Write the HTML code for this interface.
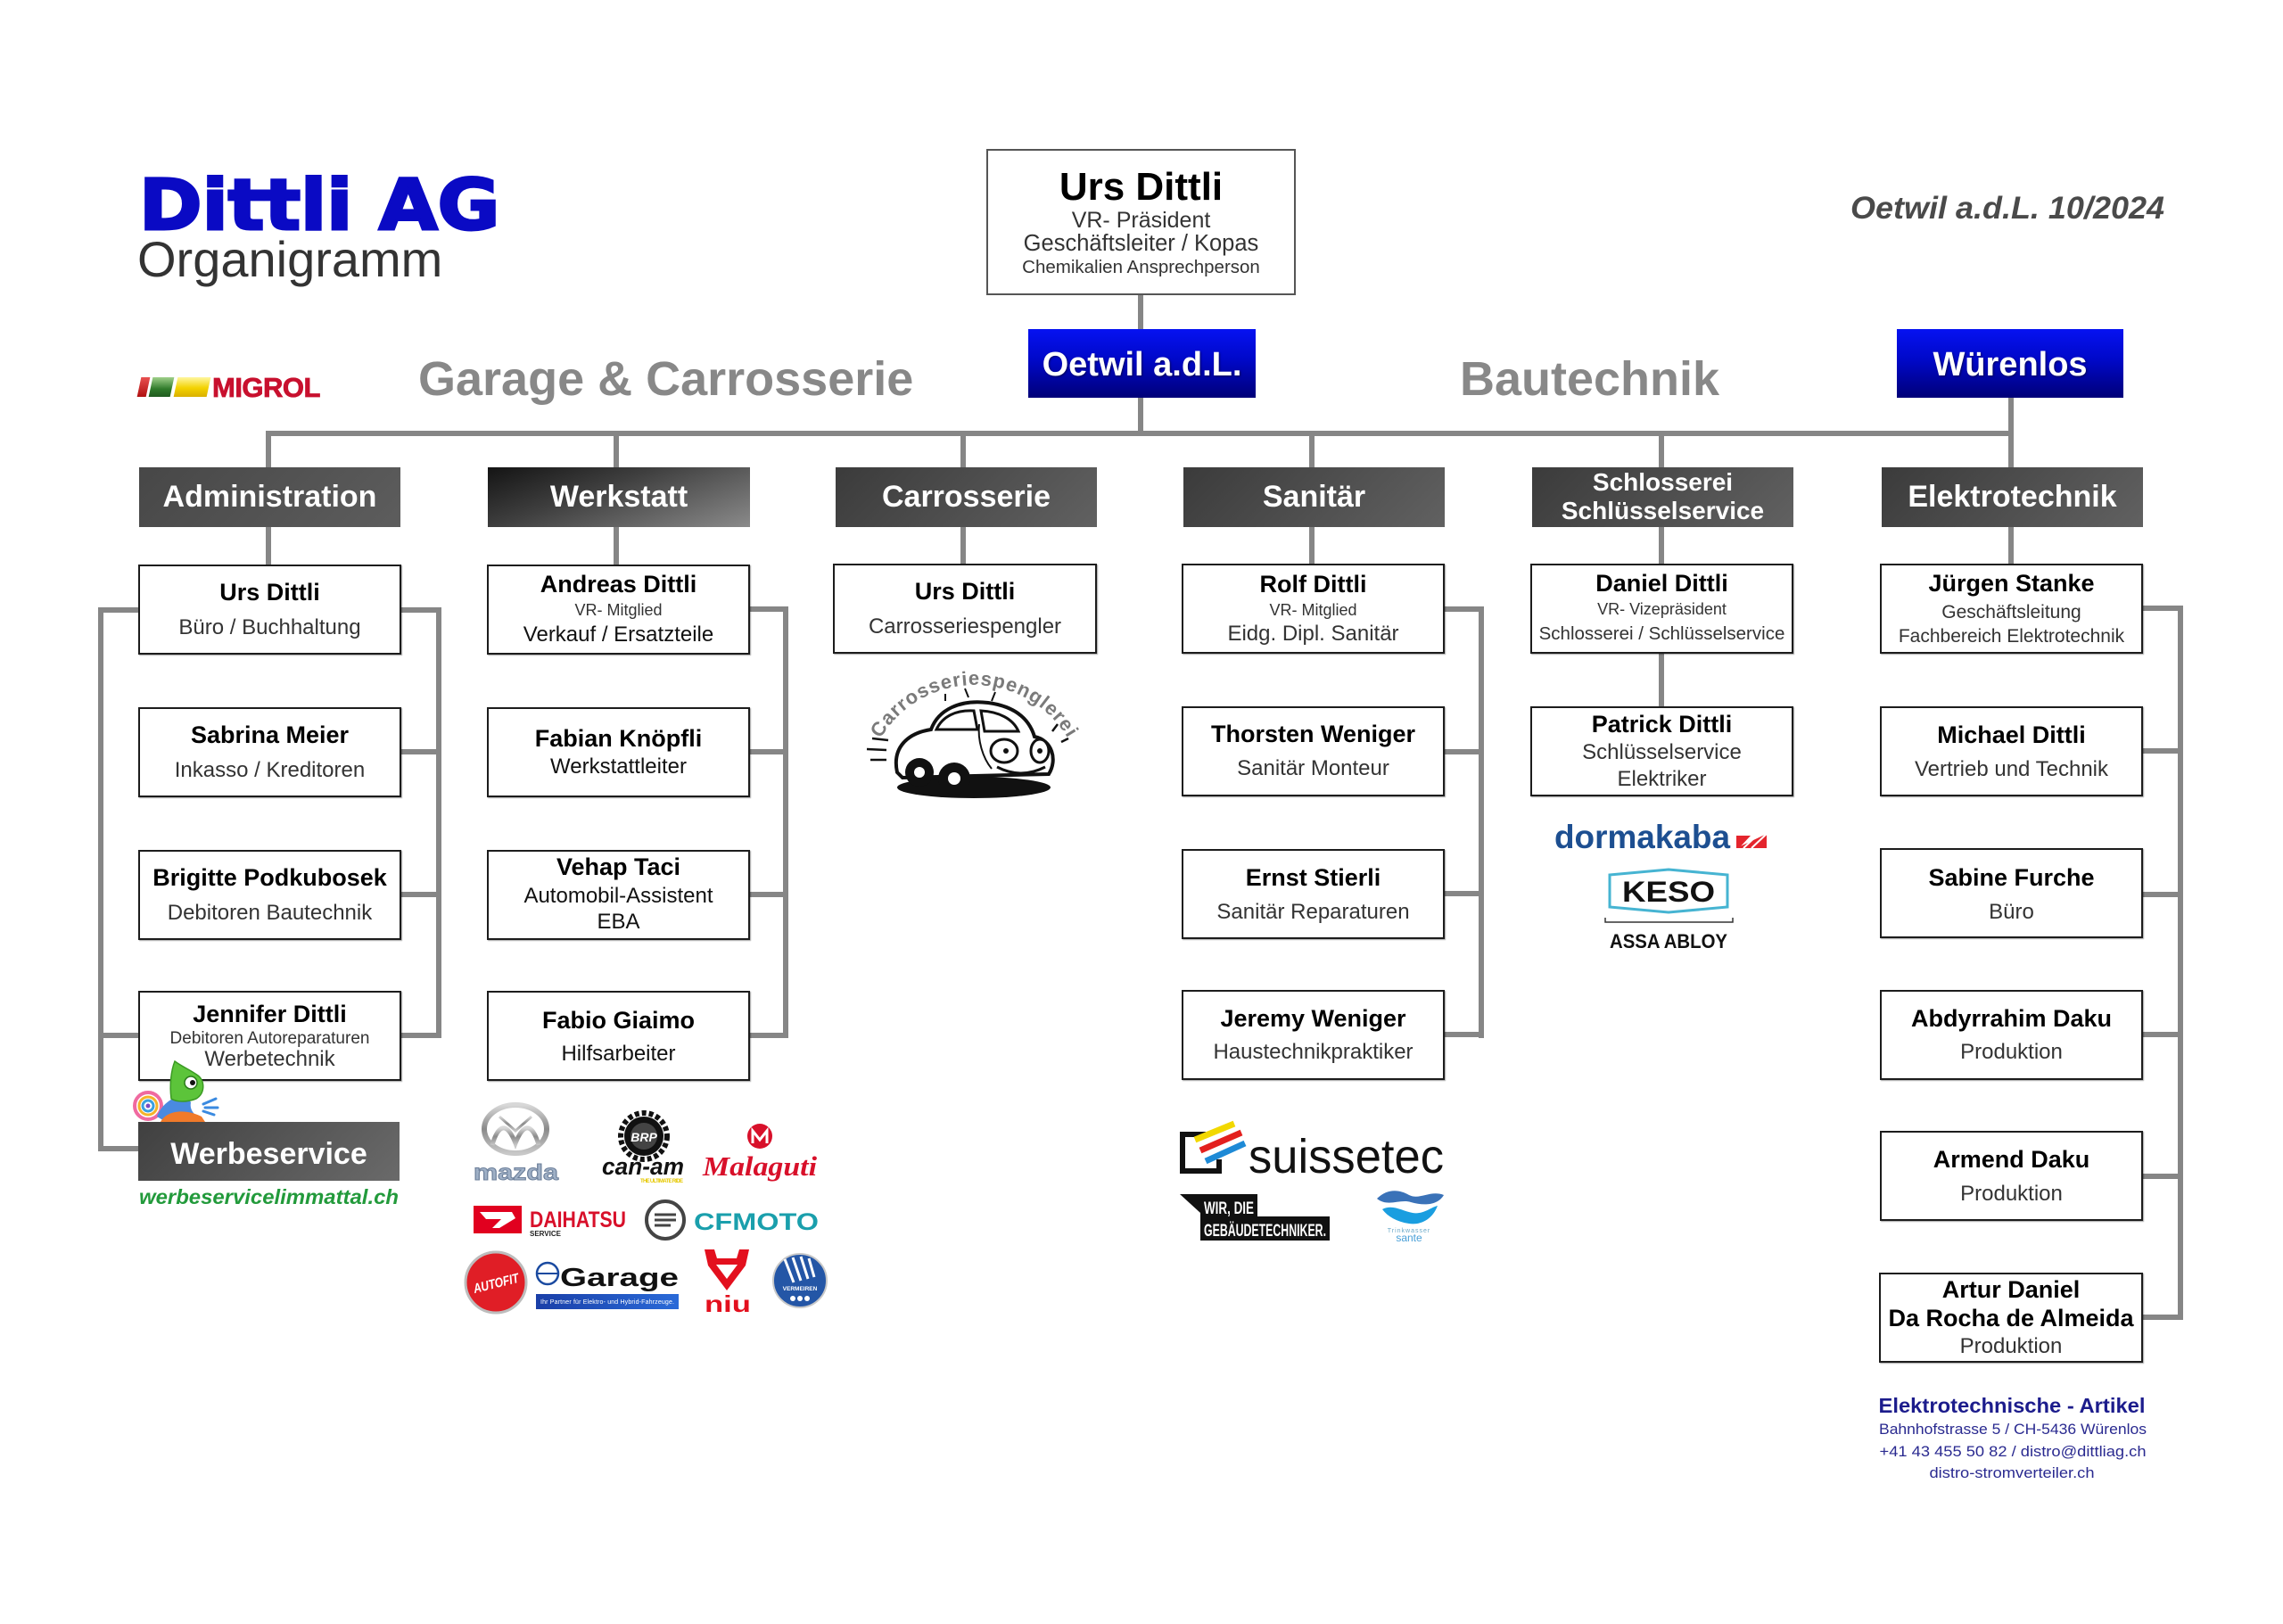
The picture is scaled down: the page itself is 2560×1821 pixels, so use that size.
<!DOCTYPE html>
<html lang="de">
<head>
<meta charset="utf-8">
<style>
  html,body{margin:0;padding:0;background:#fff;}
  body{width:2560px;height:1821px;position:relative;overflow:hidden;font-family:"Liberation Sans",Arial,sans-serif;}
  .a{position:absolute;white-space:nowrap;}
  .l{position:absolute;background:#868686;}
  .hdr{position:absolute;height:67px;line-height:67px;color:#fff;font-weight:bold;font-size:34px;text-align:center;background:linear-gradient(135deg,#3b3b3b,#616161);white-space:nowrap;}
  .blue{position:absolute;height:77px;background:linear-gradient(to bottom,#0612f2 0%,#0008c8 45%,#000078 100%);color:#fff;font-weight:bold;font-size:38px;text-align:center;}
  .blue div{position:absolute;left:0;right:0;top:21px;line-height:38px;text-shadow:1px 1px 2px rgba(0,0,0,.5);}
  .b{position:absolute;box-sizing:border-box;height:101px;border:2px solid #1c1c1c;background:#fff;box-shadow:1px 1px 1px rgba(0,0,0,.35);}
  .b div{position:absolute;left:0;right:0;text-align:center;white-space:nowrap;}
  .n{font-weight:bold;font-size:27px;line-height:27px;color:#000;}
  .s{font-size:24px;line-height:24px;color:#333;}
  .k{font-size:24px;line-height:24px;color:#111;}
  .v{font-size:18px;line-height:18px;color:#333;}
</style>
</head>
<body>

<!-- Titles -->
<div class="a" style="left:156px;top:192px;font-family:'DejaVu Sans','Liberation Sans',sans-serif;font-weight:bold;font-size:78px;line-height:78px;color:#0a0ac4;-webkit-text-stroke:3px #0a0ac4;transform:scaleX(1.09);transform-origin:left top;">Dittli AG</div>
<div class="a" style="left:154px;top:263px;font-size:56px;line-height:56px;color:#333;">Organigramm</div>

<div class="a" style="left:469px;top:398px;font-size:54px;line-height:54px;font-weight:bold;color:#888;">Garage &amp; Carrosserie</div>
<div class="a" style="left:1637px;top:398px;font-size:54px;line-height:54px;font-weight:bold;color:#888;">Bautechnik</div>

<!-- MIGROL -->
<div class="a" style="left:156px;top:423px;width:10px;height:22px;background:linear-gradient(#e85050,#b01010);transform:skewX(-12deg);"></div>
<div class="a" style="left:169px;top:423px;width:24px;height:22px;background:linear-gradient(#9fd08a,#2f7a2a 60%,#1f5a1f);transform:skewX(-12deg);"></div>
<div class="a" style="left:197px;top:423px;width:37px;height:22px;background:linear-gradient(#fff6a0,#f3d200 55%,#d9b000);transform:skewX(-12deg);"></div>
<div class="a" style="left:238px;top:419px;font-size:31px;line-height:31px;font-weight:bold;color:#c8102e;letter-spacing:-0.5px;-webkit-text-stroke:0.8px #c8102e;">MIGROL</div>

<!-- Connectors -->
<div class="l" style="left:1276px;top:331px;width:6px;height:38px;"></div>
<div class="l" style="left:1276px;top:446px;width:6px;height:40px;"></div>
<div class="l" style="left:2252px;top:446px;width:6px;height:40px;"></div>
<div class="l" style="left:298px;top:483px;width:1960px;height:6px;"></div>

<div class="l" style="left:298px;top:486px;width:6px;height:38px;"></div>
<div class="l" style="left:688px;top:486px;width:6px;height:38px;"></div>
<div class="l" style="left:1077px;top:486px;width:6px;height:38px;"></div>
<div class="l" style="left:1468px;top:486px;width:6px;height:38px;"></div>
<div class="l" style="left:1860px;top:486px;width:6px;height:38px;"></div>
<div class="l" style="left:2252px;top:486px;width:6px;height:38px;"></div>

<div class="l" style="left:298px;top:591px;width:6px;height:42px;"></div>
<div class="l" style="left:688px;top:591px;width:6px;height:42px;"></div>
<div class="l" style="left:1077px;top:591px;width:6px;height:42px;"></div>
<div class="l" style="left:1468px;top:591px;width:6px;height:42px;"></div>
<div class="l" style="left:1860px;top:591px;width:6px;height:42px;"></div>
<div class="l" style="left:2252px;top:591px;width:6px;height:42px;"></div>

<!-- Admin brackets -->
<div class="l" style="left:110px;top:681px;width:6px;height:610px;"></div>
<div class="l" style="left:110px;top:681px;width:46px;height:6px;"></div>
<div class="l" style="left:110px;top:1158px;width:46px;height:6px;"></div>
<div class="l" style="left:110px;top:1285px;width:46px;height:6px;"></div>
<div class="l" style="left:489px;top:681px;width:6px;height:483px;"></div>
<div class="l" style="left:449px;top:681px;width:46px;height:6px;"></div>
<div class="l" style="left:449px;top:840px;width:46px;height:6px;"></div>
<div class="l" style="left:449px;top:1000px;width:46px;height:6px;"></div>
<div class="l" style="left:449px;top:1158px;width:46px;height:6px;"></div>

<!-- Werkstatt bracket -->
<div class="l" style="left:878px;top:680px;width:6px;height:484px;"></div>
<div class="l" style="left:840px;top:680px;width:44px;height:6px;"></div>
<div class="l" style="left:840px;top:840px;width:44px;height:6px;"></div>
<div class="l" style="left:840px;top:1000px;width:44px;height:6px;"></div>
<div class="l" style="left:840px;top:1158px;width:44px;height:6px;"></div>

<!-- Sanitär bracket -->
<div class="l" style="left:1658px;top:680px;width:6px;height:484px;"></div>
<div class="l" style="left:1619px;top:680px;width:45px;height:6px;"></div>
<div class="l" style="left:1619px;top:840px;width:45px;height:6px;"></div>
<div class="l" style="left:1619px;top:999px;width:45px;height:6px;"></div>
<div class="l" style="left:1619px;top:1157px;width:45px;height:6px;"></div>

<!-- Schlosserei -->
<div class="l" style="left:1860px;top:733px;width:6px;height:60px;"></div>

<!-- Elektro bracket -->
<div class="l" style="left:2442px;top:679px;width:6px;height:801px;"></div>
<div class="l" style="left:2402px;top:679px;width:46px;height:6px;"></div>
<div class="l" style="left:2402px;top:839px;width:46px;height:6px;"></div>
<div class="l" style="left:2402px;top:1000px;width:46px;height:6px;"></div>
<div class="l" style="left:2402px;top:1157px;width:46px;height:6px;"></div>
<div class="l" style="left:2402px;top:1316px;width:46px;height:6px;"></div>
<div class="l" style="left:2402px;top:1474px;width:46px;height:6px;"></div>

<!-- Top box -->
<div class="b" style="left:1106px;top:167px;width:347px;height:164px;border-color:#555;box-shadow:none;">
  <div style="top:19px;font-weight:bold;font-size:44px;line-height:44px;color:#000;">Urs Dittli</div>
  <div style="top:66px;font-size:25px;line-height:25px;color:#333;">VR- Präsident</div>
  <div style="top:92px;font-size:25.5px;line-height:25.5px;color:#333;">Geschäftsleiter / Kopas</div>
  <div style="top:121px;font-size:20.5px;line-height:20.5px;color:#333;">Chemikalien Ansprechperson</div>
</div>

<!-- Blue location boxes -->
<div class="blue" style="left:1153px;top:369px;width:255px;"><div>Oetwil a.d.L.</div></div>
<div class="blue" style="left:2127px;top:369px;width:254px;"><div>Würenlos</div></div>

<!-- Department headers -->
<div class="hdr" style="left:156px;top:524px;width:293px;background:linear-gradient(135deg,#474747,#5d5d5d);">Administration</div>
<div class="hdr" style="left:547px;top:524px;width:294px;background:linear-gradient(160deg,#141414 0%,#3f3f3f 40%,#8a8a8a 100%);">Werkstatt</div>
<div class="hdr" style="left:937px;top:524px;width:293px;">Carrosserie</div>
<div class="hdr" style="left:1327px;top:524px;width:293px;">Sanitär</div>
<div class="hdr" style="left:1718px;top:524px;width:293px;font-size:28px;line-height:28px;">
  <div style="position:absolute;left:0;right:0;top:3px;">Schlosserei</div>
  <div style="position:absolute;left:0;right:0;top:35px;">Schlüsselservice</div>
</div>
<div class="hdr" style="left:2110px;top:524px;width:293px;">Elektrotechnik</div>

<!-- Administration column -->
<div class="b" style="left:155px;top:633px;width:295px;"><div class="n" style="top:16px">Urs Dittli</div><div class="s" style="top:57px">Büro / Buchhaltung</div></div>
<div class="b" style="left:155px;top:793px;width:295px;"><div class="n" style="top:16px">Sabrina Meier</div><div class="s" style="top:57px">Inkasso / Kreditoren</div></div>
<div class="b" style="left:155px;top:953px;width:295px;"><div class="n" style="top:16px">Brigitte Podkubosek</div><div class="s" style="top:57px">Debitoren Bautechnik</div></div>
<div class="b" style="left:155px;top:1111px;width:295px;"><div class="n" style="top:11px">Jennifer Dittli</div><div style="top:42px;font-size:19px;line-height:19px;color:#333;">Debitoren Autoreparaturen</div><div class="s" style="top:63px">Werbetechnik</div></div>

<div class="a" style="left:155px;top:1258px;width:293px;height:66px;background:linear-gradient(135deg,#404040,#6a6a6a);"></div>
<div class="a" style="left:155px;top:1277px;width:293px;text-align:center;color:#fff;font-weight:bold;font-size:34px;line-height:34px;">Werbeservice</div>

<!-- Werkstatt column -->
<div class="b" style="left:546px;top:633px;width:295px;"><div class="n" style="top:7px">Andreas Dittli</div><div class="v" style="top:40px">VR- Mitglied</div><div class="k" style="top:65px">Verkauf / Ersatzteile</div></div>
<div class="b" style="left:546px;top:793px;width:295px;"><div class="n" style="top:20px">Fabian Knöpfli</div><div class="k" style="top:53px">Werkstattleiter</div></div>
<div class="b" style="left:546px;top:953px;width:295px;"><div class="n" style="top:4px">Vehap Taci</div><div class="k" style="top:38px">Automobil-Assistent</div><div class="k" style="top:67px">EBA</div></div>
<div class="b" style="left:546px;top:1111px;width:295px;"><div class="n" style="top:18px">Fabio Giaimo</div><div class="k" style="top:57px">Hilfsarbeiter</div></div>

<!-- Carrosserie column -->
<div class="b" style="left:934px;top:632px;width:296px;"><div class="n" style="top:16px">Urs Dittli</div><div class="s" style="top:57px">Carrosseriespengler</div></div>

<!-- Sanitär column -->
<div class="b" style="left:1325px;top:632px;width:295px;"><div class="n" style="top:8px">Rolf Dittli</div><div class="v" style="top:41px">VR- Mitglied</div><div class="s" style="top:65px">Eidg. Dipl. Sanitär</div></div>
<div class="b" style="left:1325px;top:792px;width:295px;"><div class="n" style="top:16px">Thorsten Weniger</div><div class="s" style="top:56px">Sanitär Monteur</div></div>
<div class="b" style="left:1325px;top:952px;width:295px;"><div class="n" style="top:17px">Ernst Stierli</div><div class="s" style="top:57px">Sanitär Reparaturen</div></div>
<div class="b" style="left:1325px;top:1110px;width:295px;"><div class="n" style="top:17px">Jeremy Weniger</div><div class="s" style="top:56px">Haustechnikpraktiker</div></div>

<!-- Schlosserei column -->
<div class="b" style="left:1716px;top:632px;width:295px;"><div class="n" style="top:7px">Daniel Dittli</div><div class="v" style="top:40px">VR- Vizepräsident</div><div class="s" style="top:67px;font-size:20.5px;line-height:20.5px;">Schlosserei / Schlüsselservice</div></div>
<div class="b" style="left:1716px;top:792px;width:295px;"><div class="n" style="top:5px">Patrick Dittli</div><div class="s" style="top:38px">Schlüsselservice</div><div class="s" style="top:68px">Elektriker</div></div>

<!-- Elektro column -->
<div class="b" style="left:2108px;top:632px;width:295px;"><div class="n" style="top:7px">Jürgen Stanke</div><div class="s" style="top:42px;font-size:21px;line-height:21px;">Geschäftsleitung</div><div class="s" style="top:69px;font-size:21px;line-height:21px;">Fachbereich Elektrotechnik</div></div>
<div class="b" style="left:2108px;top:792px;width:295px;"><div class="n" style="top:17px">Michael Dittli</div><div class="s" style="top:57px">Vertrieb und Technik</div></div>
<div class="b" style="left:2108px;top:951px;width:295px;"><div class="n" style="top:18px">Sabine Furche</div><div class="s" style="top:58px">Büro</div></div>
<div class="b" style="left:2108px;top:1110px;width:295px;"><div class="n" style="top:17px">Abdyrrahim Daku</div><div class="s" style="top:56px">Produktion</div></div>
<div class="b" style="left:2108px;top:1268px;width:295px;"><div class="n" style="top:17px">Armend Daku</div><div class="s" style="top:57px">Produktion</div></div>
<div class="b" style="left:2107px;top:1427px;width:296px;"><div class="n" style="top:4px">Artur Daniel</div><div class="n" style="top:36px">Da Rocha de Almeida</div><div class="s" style="top:69px">Produktion</div></div>

<!-- Logos & misc SVG -->
<svg class="a" style="left:0;top:0;" width="2560" height="1821" viewBox="0 0 2560 1821" xmlns="http://www.w3.org/2000/svg" font-family="Liberation Sans, Arial, sans-serif">
  <defs>
    <linearGradient id="silver" x1="0" y1="0" x2="0" y2="1">
      <stop offset="0" stop-color="#d8d8d8"/><stop offset="0.5" stop-color="#8a8a8a"/><stop offset="1" stop-color="#c8c8c8"/>
    </linearGradient>
    <linearGradient id="egbar" x1="0" y1="0" x2="1" y2="0">
      <stop offset="0" stop-color="#1a3fa8"/><stop offset="1" stop-color="#2a6ad8"/>
    </linearGradient>
    <path id="arc" d="M 978 848 A 122 122 0 0 1 1207 848"/>
  </defs>

  <!-- Date -->
  <text x="2075" y="245" font-size="35" font-weight="bold" font-style="italic" fill="#4a4a4a" textLength="352" lengthAdjust="spacingAndGlyphs">Oetwil a.d.L. 10/2024</text>

  <!-- Carrosseriespenglerei logo -->
  <text font-size="22" font-weight="bold" fill="#7a7a7a" letter-spacing="1"><textPath href="#arc" startOffset="50%" text-anchor="middle">Carrosseriespenglerei</textPath></text>
  <ellipse cx="1092" cy="883" rx="86" ry="12" fill="#111"/>
  <path d="M1006 866 C1000 838 1018 822 1044 818 C1052 796 1076 784 1108 788 C1138 792 1154 806 1160 826 C1180 830 1186 852 1176 868 L1012 872 Z" fill="#fff" stroke="#111" stroke-width="4"/>
  <path d="M1050 818 C1057 803 1072 796 1092 797 L1096 818 Z" fill="#fff" stroke="#111" stroke-width="3"/>
  <path d="M1100 797 C1120 798 1136 806 1142 820 L1104 820 Z" fill="#fff" stroke="#111" stroke-width="3"/>
  <path d="M1098 812 C1096 830 1102 850 1112 862" fill="none" stroke="#111" stroke-width="2"/>
  <ellipse cx="1126" cy="842" rx="15" ry="13" fill="#fff" stroke="#111" stroke-width="3"/>
  <ellipse cx="1166" cy="842" rx="10" ry="13" fill="#fff" stroke="#111" stroke-width="3"/>
  <circle cx="1128" cy="842" r="3" fill="#111"/><circle cx="1166" cy="842" r="3" fill="#111"/>
  <path d="M1118 860 Q1145 874 1172 860" fill="none" stroke="#111" stroke-width="3"/>
  <circle cx="1031" cy="866" r="16" fill="#111"/><circle cx="1031" cy="866" r="6" fill="#fff"/>
  <circle cx="1070" cy="873" r="18" fill="#111"/><circle cx="1070" cy="873" r="7" fill="#fff"/>
  <path d="M1086 782 L1082 772 M1060 786 L1060 778 M1112 786 L1116 776" stroke="#111" stroke-width="2"/>
  <path d="M978 828 L996 830 M972 840 L994 841 M976 852 L994 852 M1180 820 L1186 812 M1190 832 L1198 828" stroke="#111" stroke-width="2.5"/>

  <!-- Chameleon -->
  <circle cx="166" cy="1240" r="15" fill="none" stroke="#f06aa0" stroke-width="4"/>
  <circle cx="166" cy="1240" r="10" fill="none" stroke="#f5b32a" stroke-width="3"/>
  <circle cx="166" cy="1240" r="6" fill="none" stroke="#3aa0e0" stroke-width="3"/>
  <circle cx="166" cy="1240" r="2.5" fill="#7a4ac0"/>
  <path d="M176 1252 C182 1236 196 1230 206 1226 L214 1236 C212 1246 220 1252 228 1256 L186 1258 Z" fill="#4a8ae0"/>
  <path d="M180 1258 C186 1246 206 1242 226 1252 L230 1258 Z" fill="#f07a2a"/>
  <path d="M192 1232 C190 1216 192 1200 196 1190 C204 1196 214 1200 222 1206 C230 1212 230 1226 220 1232 C210 1236 198 1236 192 1232 Z" fill="#5cc43a" stroke="#3a9a22" stroke-width="1.5"/>
  <circle cx="214" cy="1214" r="7" fill="#fff" stroke="#2a7a1a" stroke-width="1.5"/>
  <circle cx="216" cy="1214" r="3" fill="#111"/>
  <path d="M228 1238 L242 1232 M230 1242 L244 1242 M228 1246 L240 1250" stroke="#3a8ae0" stroke-width="3" stroke-linecap="round"/>

  <!-- werbeservicelimmattal.ch -->
  <text x="156" y="1350" font-size="23" font-weight="bold" font-style="italic" fill="#229a3b" textLength="291" lengthAdjust="spacingAndGlyphs">werbeservicelimmattal.ch</text>

  <!-- Mazda -->
  <ellipse cx="578" cy="1266" rx="35" ry="27" fill="none" stroke="url(#silver)" stroke-width="6"/>
  <path d="M552 1284 C558 1262 568 1256 578 1282 C588 1256 598 1262 604 1284" fill="none" stroke="url(#silver)" stroke-width="5"/>
  <path d="M560 1252 L578 1268 L596 1252" fill="none" stroke="url(#silver)" stroke-width="3"/>
  <text x="531" y="1323" font-size="25" font-weight="bold" fill="#9fb0c6" stroke="#6c7f9a" stroke-width="1" textLength="95" lengthAdjust="spacingAndGlyphs">mazda</text>

  <!-- Can-am -->
  <circle cx="722" cy="1274" r="26" fill="none" stroke="#111" stroke-width="6" stroke-dasharray="5 3"/>
  <circle cx="722" cy="1274" r="22" fill="#111"/>
  <circle cx="722" cy="1274" r="15" fill="#444"/>
  <text x="722" y="1280" font-size="14" font-weight="bold" font-style="italic" fill="#fff" text-anchor="middle">BRP</text>
  <text x="675" y="1317" font-size="27" font-weight="bold" font-style="italic" fill="#111" textLength="92" lengthAdjust="spacingAndGlyphs">can-am</text>
  <text x="718" y="1326" font-size="6" font-weight="bold" fill="#e6c800" textLength="48">THE ULTIMATE RIDE</text>

  <!-- Malaguti -->
  <circle cx="852" cy="1274" r="14" fill="#d8102a"/>
  <path d="M844 1282 L844 1268 L852 1278 L860 1268 L860 1282" fill="none" stroke="#fff" stroke-width="3"/>
  <text x="788" y="1318" font-family="Liberation Serif, serif" font-size="31" font-weight="bold" font-style="italic" fill="#d8102a" textLength="128" lengthAdjust="spacingAndGlyphs">Malaguti</text>

  <!-- Daihatsu -->
  <rect x="531" y="1352" width="54" height="31" fill="#e1001f"/>
  <path d="M538 1359 L574 1359 L578 1366 L560 1377 L552 1377 L562 1367 L545 1367 Z" fill="#fff"/>
  <text x="594" y="1376" font-size="25" font-weight="bold" fill="#d8102a" textLength="108" lengthAdjust="spacingAndGlyphs">DAIHATSU</text>
  <text x="594" y="1386" font-size="8" font-weight="bold" fill="#222">SERVICE</text>

  <!-- CFMOTO -->
  <circle cx="746" cy="1368" r="21" fill="#fff" stroke="#444" stroke-width="4"/>
  <path d="M734 1362 L758 1362 M734 1368 L758 1368 M734 1374 L752 1374" stroke="#444" stroke-width="3"/>
  <text x="778" y="1379" font-size="27" font-weight="bold" fill="#1a9fac" textLength="140" lengthAdjust="spacingAndGlyphs">CFMOTO</text>

  <!-- Autofit -->
  <circle cx="556" cy="1438" r="34" fill="#e01e26" stroke="#bdbdbd" stroke-width="3"/>
  <text x="556" y="1444" font-size="15" font-weight="bold" font-style="italic" fill="#fff" text-anchor="middle" textLength="52" lengthAdjust="spacingAndGlyphs" transform="rotate(-14 556 1438)">AUTOFIT</text>

  <!-- eGarage -->
  <circle cx="614" cy="1428" r="12" fill="none" stroke="#1a4aa0" stroke-width="2.5"/>
  <path d="M603 1428 L625 1428" stroke="#1a4aa0" stroke-width="2"/>
  <text x="628" y="1442" font-size="29" font-weight="bold" fill="#111" textLength="133" lengthAdjust="spacingAndGlyphs">Garage</text>
  <rect x="601" y="1451" width="160" height="17" fill="url(#egbar)"/>
  <text x="606" y="1462" font-size="7" fill="#fff" textLength="150">Ihr Partner für Elektro- und Hybrid-Fahrzeuge.</text>

  <!-- niu -->
  <path d="M790 1401 L801 1401 L804 1411 L826 1411 L829 1401 L840 1401 L836 1419 L815 1447 L794 1419 Z" fill="#e3101e"/>
  <path d="M803 1418 L827 1418 L815 1434 Z" fill="#fff"/>
  <text x="790" y="1471" font-size="26" font-weight="bold" fill="#e3101e" textLength="52" lengthAdjust="spacingAndGlyphs">niu</text>

  <!-- Vermeiren -->
  <circle cx="897" cy="1436" r="30" fill="#2456a6" stroke="#c8c8c8" stroke-width="2"/>
  <path d="M880 1412 L890 1438 M889 1410 L898 1436 M898 1409 L906 1434 M907 1411 L913 1432" stroke="#fff" stroke-width="3"/>
  <text x="897" y="1447" font-size="6.5" font-weight="bold" fill="#fff" text-anchor="middle">VERMEIREN</text>
  <circle cx="889" cy="1456" r="3" fill="#fff"/><circle cx="897" cy="1456" r="3" fill="#fff"/><circle cx="905" cy="1456" r="3" fill="#fff"/>

  <!-- suissetec -->
  <path d="M1352 1272 L1326 1272 L1326 1313 L1367 1313 L1367 1300" fill="none" stroke="#111" stroke-width="6"/>
  <path d="M1340 1278 L1384 1260" stroke="#f2d800" stroke-width="7"/>
  <path d="M1346 1290 L1392 1270" stroke="#e3201e" stroke-width="7"/>
  <path d="M1352 1302 L1396 1282" stroke="#1e8ad6" stroke-width="7"/>
  <text x="1400" y="1315" font-size="54" fill="#111" textLength="219" lengthAdjust="spacingAndGlyphs">suissetec</text>

  <!-- Wir, die Gebäudetechniker -->
  <path d="M1323 1339 L1410 1339 L1410 1364 L1491 1364 L1491 1391 L1346 1391 L1346 1360 Z" fill="#111"/>
  <text x="1350" y="1361" font-size="19" font-weight="bold" fill="#fff" textLength="56" lengthAdjust="spacingAndGlyphs">WIR, DIE</text>
  <text x="1350" y="1386" font-size="19" font-weight="bold" fill="#fff" textLength="137" lengthAdjust="spacingAndGlyphs">GEBÄUDETECHNIKER.</text>

  <!-- Trinkwasser sante -->
  <path d="M1544 1344 C1556 1332 1570 1334 1580 1340 C1592 1346 1604 1334 1619 1340 C1612 1352 1596 1352 1582 1348 C1570 1344 1556 1354 1544 1344 Z" fill="#3a72b8"/>
  <path d="M1550 1356 C1562 1350 1572 1358 1584 1360 C1596 1362 1604 1354 1612 1352 C1606 1368 1592 1374 1580 1372 C1566 1370 1556 1364 1550 1356 Z" fill="#1a9ee0"/>
  <text x="1580" y="1382" font-size="7" fill="#6aa8c8" text-anchor="middle" letter-spacing="1">Trinkwasser</text>
  <text x="1580" y="1392" font-size="12" fill="#4aa0d8" text-anchor="middle">sante</text>

  <!-- dormakaba -->
  <text x="1743" y="951" font-size="37" font-weight="bold" fill="#1d4f91" textLength="197" lengthAdjust="spacingAndGlyphs">dormakaba</text>
  <path d="M1947 951 L1981 951 L1981 935 Z" fill="#e4252d"/>
  <path d="M1947 937 L1963 937 L1950 951 L1947 951 Z" fill="#e4252d"/>
  <path d="M1955 951 L1972 935 M1964 951 L1981 935" stroke="#fff" stroke-width="2"/>

  <!-- KESO / ASSA ABLOY -->
  <polygon points="1805,981 1871,975 1937,981 1937,1017 1871,1023 1805,1017" fill="#fff" stroke="#46b4d2" stroke-width="3"/>
  <text x="1871" y="1011" font-size="32" font-weight="bold" fill="#111" text-anchor="middle" textLength="104" lengthAdjust="spacingAndGlyphs">KESO</text>
  <path d="M1800 1029 L1800 1034 L1943 1034 L1943 1029" fill="none" stroke="#333" stroke-width="1.5"/>
  <text x="1805" y="1063" font-size="22" font-weight="bold" fill="#111" textLength="132" lengthAdjust="spacingAndGlyphs">ASSA ABLOY</text>

  <!-- Footer -->
  <text x="2256" y="1584" font-size="23" font-weight="bold" fill="#1c1c8c" text-anchor="middle" textLength="299" lengthAdjust="spacingAndGlyphs">Elektrotechnische - Artikel</text>
  <text x="2257" y="1608" font-size="17" fill="#2a2a90" text-anchor="middle" textLength="300" lengthAdjust="spacingAndGlyphs">Bahnhofstrasse 5 / CH-5436 Würenlos</text>
  <text x="2257" y="1633" font-size="17" fill="#2a2a90" text-anchor="middle" textLength="299" lengthAdjust="spacingAndGlyphs">+41 43 455 50 82 / distro@dittliag.ch</text>
  <text x="2256" y="1657" font-size="17" fill="#2a2a90" text-anchor="middle" textLength="185" lengthAdjust="spacingAndGlyphs">distro-stromverteiler.ch</text>
</svg>

</body>
</html>
